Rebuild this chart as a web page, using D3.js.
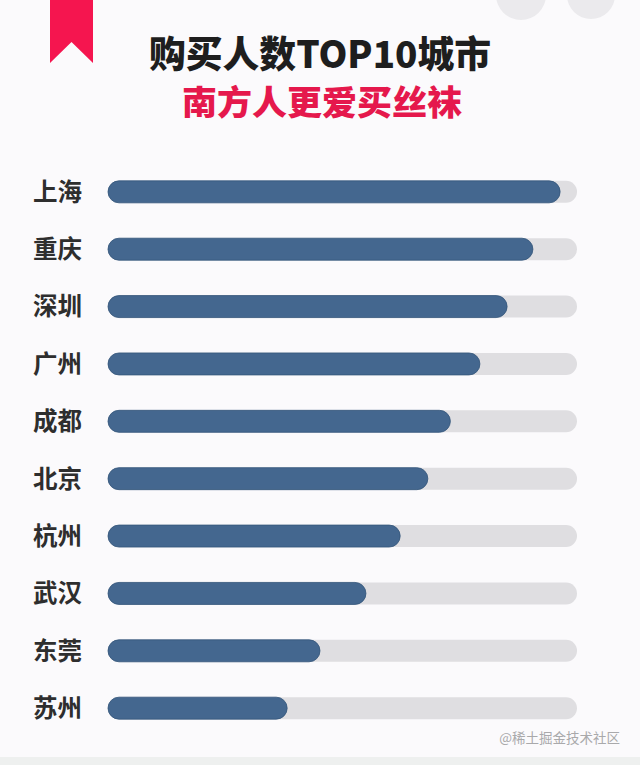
<!DOCTYPE html>
<html><head><meta charset="utf-8">
<script src="https://cdn.jsdelivr.net/npm/d3@7/dist/d3.min.js"></script>
<style>html,body{margin:0;padding:0;background:#fbfafc;}svg{display:block;}</style>
</head><body>
<script>
const cities = ["上海","重庆","深圳","广州","成都","北京","杭州","武汉","东莞","苏州"];
const values = [96.4, 90.6, 85.1, 79.3, 73.0, 68.2, 62.3, 55.0, 45.2, 38.2];
const maxValue = 100;
const title = "购买人数TOP10城市";
const subtitle = "南方人更爱买丝袜";
const watermark = "@稀土掘金技术社区";

const W = 640, H = 765;
const svg = d3.select("body").append("svg").attr("width", W).attr("height", H);
svg.append("rect").attr("width", W).attr("height", H).attr("fill", "#fbfafc");
svg.append("rect").attr("x",0).attr("y",757).attr("width",W).attr("height",8).attr("fill","#eef0ef");

// decorative circles top-right
svg.append("circle").attr("cx",521).attr("cy",-5).attr("r",25).attr("fill","#ebeaed");
svg.append("circle").attr("cx",591).attr("cy",-5).attr("r",24).attr("fill","#ebeaed");

// ribbon
svg.append("path").attr("d","M50,0 L93,0 L93,63 L71.5,42 L50,63 Z").attr("fill","#f5154f");

const font = "'Noto Sans CJK SC','Noto Sans',sans-serif";
svg.append("text").attr("x",320).attr("y",68).attr("text-anchor","middle")
  .attr("font-family",font).attr("font-weight",900).attr("font-size",37)
  .attr("fill","#1e1e1e").attr("textLength",342).attr("lengthAdjust","spacingAndGlyphs").text(title);
svg.append("text").attr("x",322).attr("y",115).attr("text-anchor","middle")
  .attr("font-family",font).attr("font-weight",900).attr("font-size",34)
  .attr("fill","#e5184c").attr("textLength",280).attr("lengthAdjust","spacingAndGlyphs").text(subtitle);

const x = d3.scaleLinear().domain([0, maxValue]).range([108, 577]);
const y = d3.scaleBand().domain(cities).range([163, 737]).paddingInner(0.615).paddingOuter(0.31);
const bh = 22;

const rows = svg.append("g").selectAll("g").data(cities).join("g")
  .attr("transform", d => `translate(0,${y(d) + y.bandwidth()/2})`);

rows.append("rect").attr("x", x(0)).attr("y", -bh/2).attr("width", x(maxValue)-x(0)).attr("height", bh)
  .attr("rx", bh/2).attr("fill", "#dfdee1");
rows.append("rect").attr("x", x(0)).attr("y", -bh/2).attr("width", (d,i) => x(values[i]) - x(0)).attr("height", bh)
  .attr("rx", bh/2).attr("fill", "#44678f").attr("stroke","#33557a").attr("stroke-width",0.8);

rows.append("text").attr("x", 33).attr("y", 0).attr("dy","0.36em")
  .attr("font-family",font).attr("font-weight",700).attr("font-size",24.5)
  .attr("fill","#2e2e2e").text(d => d);

svg.append("text").attr("x",620).attr("y",743).attr("text-anchor","end")
  .attr("font-family",font).attr("font-size",13.5).attr("fill","#a9a9ab").text(watermark);
</script>
</body></html>
